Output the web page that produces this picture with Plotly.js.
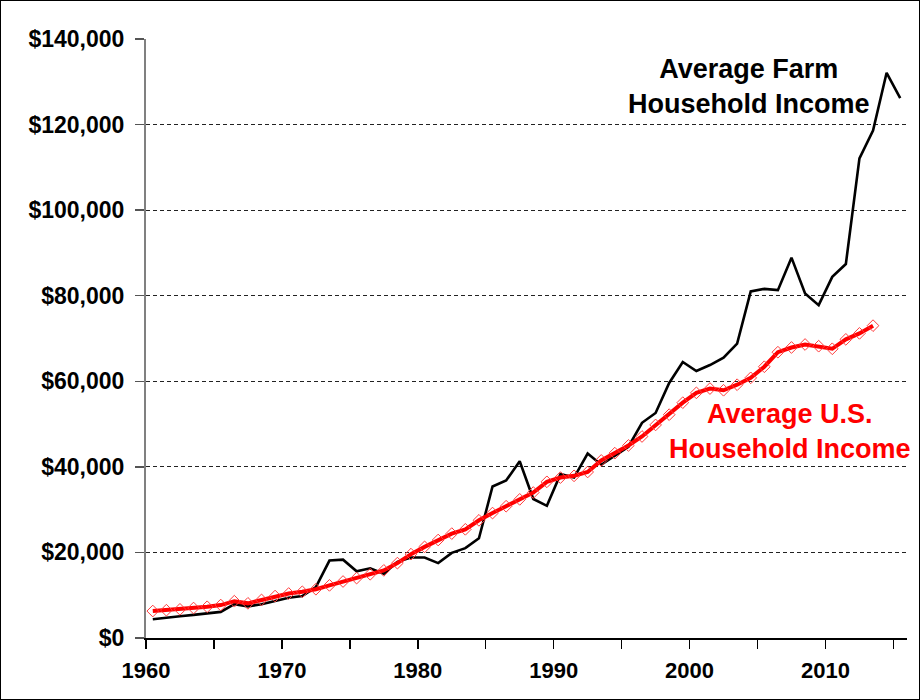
<!DOCTYPE html>
<html>
<head>
<meta charset="utf-8">
<script src="https://cdn.plot.ly/plotly-3.0.1.min.js"></script>
<style>
  html, body { margin: 0; padding: 0; background: #fff; }
  #chart { width: 918px; height: 698px; border: 1px solid #000; }
</style>
</head>
<body>
<div id="chart"></div>
<script>
// Years
const farmYears = [1960,1961,1962,1963,1964,1965,1966,1967,1968,1969,
  1970,1971,1972,1973,1974,1975,1976,1977,1978,1979,
  1980,1981,1982,1983,1984,1985,1986,1987,1988,1989,
  1990,1991,1992,1993,1994,1995,1996,1997,1998,1999,
  2000,2001,2002,2003,2004,2005,2006,2007,2008,2009,
  2010,2011,2012,2013,2014,2015];
const usYears = farmYears.slice(0, 54); // 1960-2013

// Average farm household income (dollars)
const farmIncome = [4400,4800,5100,5400,5700,6100,7900,7400,7900,8700,
  9400,9800,11900,18100,18300,15600,16300,15000,17800,18800,
  18800,17500,19900,21000,23300,35400,36800,41300,32500,30900,
  38300,37500,43100,40500,42500,44700,50300,52600,59600,64500,
  62400,63800,65500,68800,81000,81600,81300,88900,80500,77800,
  84400,87400,112100,118600,132100,126200];

// Average U.S. household income (dollars)
const usIncome = [6300,6500,6700,7000,7300,7700,8600,8100,8900,9800,
  10400,10800,11400,12300,13200,14000,14900,15800,17500,19600,
  21300,22900,24400,25400,27500,29200,30800,32400,34000,36500,
  37500,37900,38800,41500,43200,45000,47100,49800,52200,55000,
  57300,58300,57900,59200,60800,63400,66800,67900,68600,68200,
  67600,69800,71200,73000];

// Axis ticks
const xTickYears = [1960,1965,1970,1975,1980,1985,1990,1995,2000,2005,2010,2015];
const xTickLabels = ['1960','','1970','','1980','','1990','','2000','','2010',''];
const yTickVals = [0,20000,40000,60000,80000,100000,120000,140000];
const yTickLabels = ['$0','$20,000','$40,000','$60,000','$80,000','$100,000','$120,000','$140,000'];

const labelFarm = 'Average Farm<br>Household Income';
const labelUS = 'Average U.S.<br>Household Income';

// Category axis: each year occupies one slot; tick marks sit on slot boundaries
const xTickPos = xTickYears.map(y => y - 0.5);
const xRange = [farmYears[0] - 0.5, farmYears[farmYears.length - 1] + 0.5];

const FONT = 'Liberation Sans, Arial, sans-serif';

const traces = [
  {
    x: farmYears, y: farmIncome, type: 'scatter', mode: 'lines',
    line: { color: '#000000', width: 2.6 },
    name: 'Average Farm Household Income', hoverinfo: 'x+y'
  },
  {
    x: usYears, y: usIncome, type: 'scatter', mode: 'lines+markers',
    line: { color: '#ff0000', width: 4 },
    marker: { symbol: 'diamond-open', size: 9, color: '#ff3a3a', line: { color: '#ff3a3a', width: 1 } },
    name: 'Average U.S. Household Income', hoverinfo: 'x+y'
  }
];

const layout = {
  width: 918, height: 698,
  margin: { l: 145, r: 12, t: 38, b: 61 },
  paper_bgcolor: '#ffffff', plot_bgcolor: '#ffffff',
  showlegend: false,
  font: { family: FONT, color: '#000' },
  xaxis: {
    range: xRange, tickmode: 'array', tickvals: xTickPos, ticktext: xTickLabels,
    ticks: 'outside', ticklen: 9, tickwidth: 1.5, tickcolor: '#000',
    ticklabelstandoff: 3,
    showline: true, linecolor: '#000', linewidth: 2,
    showgrid: false, zeroline: false,
    tickfont: { family: FONT, size: 22, weight: 'bold', color: '#000' }
  },
  xaxis2: {
    overlaying: 'x', anchor: 'y', range: xRange, tickmode: 'array', tickvals: xTickPos,
    ticks: 'inside', ticklen: 8, tickwidth: 1.5, tickcolor: '#000',
    showticklabels: false, showline: false, showgrid: false, zeroline: false
  },
  yaxis: {
    range: [0, 140000], tickmode: 'array', tickvals: yTickVals, ticktext: yTickLabels,
    ticks: 'outside', ticklen: 9, tickwidth: 1.5, tickcolor: '#555',
    ticklabelstandoff: 6,
    showline: true, linecolor: '#808080', linewidth: 2,
    showgrid: true, gridcolor: '#222', gridwidth: 1, griddash: '4px,3px',
    zeroline: false,
    tickfont: { family: FONT, size: 23, weight: 'bold', color: '#000' }
  },
  annotations: [
    {
      x: 2003.9, y: 129000, xref: 'x', yref: 'y', text: labelFarm, showarrow: false,
      align: 'center', font: { family: FONT, size: 27, weight: 'bold', color: '#000' }
    },
    {
      x: 2006.9, y: 48300, xref: 'x', yref: 'y', text: labelUS, showarrow: false,
      align: 'center', font: { family: FONT, size: 27, weight: 'bold', color: '#ff0000' }
    }
  ]
};

Plotly.newPlot('chart', traces, layout, { displayModeBar: false, staticPlot: true });
</script>
</body>
</html>
